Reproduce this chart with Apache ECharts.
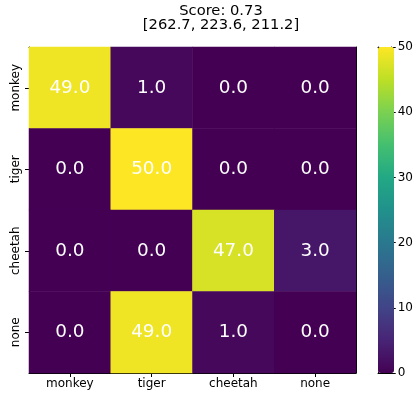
<!DOCTYPE html>
<html>
<head>
<meta charset="utf-8">
<script src="https://cdn.jsdelivr.net/npm/echarts@6/dist/echarts.min.js"></script>
<style>html,body{margin:0;padding:0;background:#fff}#c{width:416px;height:396px}</style>
</head>
<body>
<div id="c"></div>
<script>
const titleText = 'Score: 0.73';
const subtitleText = '[262.7, 223.6, 211.2]';
const trueLabels = ['monkey', 'tiger', 'cheetah', 'none'];
const predLabels = ['monkey', 'tiger', 'cheetah', 'none'];
const rowMonkey = [49.0, 1.0, 0.0, 0.0];
const rowTiger = [0.0, 50.0, 0.0, 0.0];
const rowCheetah = [0.0, 0.0, 47.0, 3.0];
const rowNone = [0.0, 49.0, 1.0, 0.0];
const colorbarTicks = [0, 10, 20, 30, 40, 50];
const viridis = ['#440154','#482475','#414487','#355f8d','#2a788e','#21918c','#22a884','#44bf70','#7ad151','#bddf26','#fde725'];

const rows = [rowMonkey, rowTiger, rowCheetah, rowNone];
const data = [];
rows.forEach((r, i) => r.forEach((v, j) => data.push([j, i, v])));

const font = 'DejaVu Sans';
const chart = echarts.init(document.getElementById('c'), null, {renderer: 'canvas'});
chart.setOption({
  animation: false,
  backgroundColor: '#fff',
  title: {
    text: titleText + '\n' + subtitleText,
    left: 216, top: -1, textAlign: 'center',
    textStyle: {fontFamily: font, fontSize: 14.7, fontWeight: 'normal', color: '#000', lineHeight: 14}
  },
  grid: [
    {left: 29, top: 47, width: 327, height: 326},
    {left: 378, top: 47, width: 16, height: 326}
  ],
  xAxis: [
    {type: 'category', gridIndex: 0, data: predLabels, position: 'bottom',
     axisLine: {show: true, onZero: false, lineStyle: {color: '#000', width: 1}},
     axisTick: {show: true, alignWithLabel: true, length: 4, lineStyle: {color: '#000'}},
     axisLabel: {fontFamily: font, fontSize: 12, color: '#000', margin: 5},
     splitLine: {show: false}},
    {type: 'category', gridIndex: 0, data: predLabels, position: 'top',
     axisLine: {show: true, onZero: false, lineStyle: {color: '#000', width: 1}},
     axisTick: {show: false}, axisLabel: {show: false}},
    {type: 'value', gridIndex: 1, min: 0, max: 1, position: 'bottom', show: true,
     axisLine: {show: true, onZero: false, lineStyle: {color: '#000'}}, axisTick: {show: false}, axisLabel: {show: false}, splitLine: {show: false}},
    {type: 'value', gridIndex: 1, min: 0, max: 1, position: 'top', show: true,
     axisLine: {show: true, onZero: false, lineStyle: {color: '#000'}}, axisTick: {show: false}, axisLabel: {show: false}, splitLine: {show: false}}
  ],
  yAxis: [
    {type: 'category', gridIndex: 0, data: trueLabels, inverse: true, position: 'left',
     axisLine: {show: true, onZero: false, lineStyle: {color: '#000', width: 1}},
     axisTick: {show: true, alignWithLabel: true, length: 4, lineStyle: {color: '#000'}},
     axisLabel: {fontFamily: font, fontSize: 12, color: '#000', rotate: 90, margin: 7},
     splitLine: {show: false}},
    {type: 'category', gridIndex: 0, data: trueLabels, inverse: true, position: 'right',
     axisLine: {show: true, onZero: false, lineStyle: {color: '#000', width: 1}},
     axisTick: {show: false}, axisLabel: {show: false}},
    {type: 'value', gridIndex: 1, min: colorbarTicks[0], max: colorbarTicks[colorbarTicks.length - 1], interval: 10, position: 'right',
     axisLine: {show: true, onZero: false, lineStyle: {color: '#000'}},
     axisTick: {show: true, length: 4, lineStyle: {color: '#000'}},
     axisLabel: {fontFamily: font, fontSize: 12, color: '#000', margin: 6},
     splitLine: {show: false}},
    {type: 'value', gridIndex: 1, min: 0, max: 50, position: 'left',
     axisLine: {show: true, onZero: false, lineStyle: {color: '#000'}},
     axisTick: {show: false}, axisLabel: {show: false}, splitLine: {show: false}}
  ],
  visualMap: {
    type: 'continuous', min: 0, max: 50, seriesIndex: 0,
    calculable: false, show: true, left: 378, top: 47,
    itemWidth: 16, itemHeight: 326, padding: 0, text: null, showLabel: false,
    inRange: {color: viridis}
  },
  series: [{
    type: 'heatmap', xAxisIndex: 0, yAxisIndex: 0, data: data,
    label: {show: true, color: '#fff', fontFamily: font, fontSize: 18.4,
      formatter: p => p.value[2].toFixed(1)},
    itemStyle: {borderWidth: 0},
    emphasis: {disabled: true}
  }]
});
</script>
</body>
</html>
